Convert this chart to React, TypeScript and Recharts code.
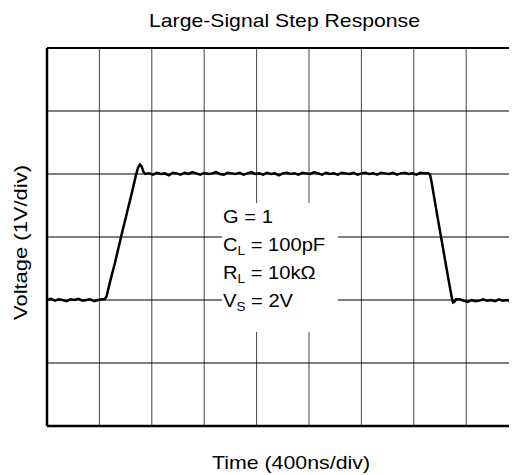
import { LineChart, Line, XAxis, YAxis, ReferenceLine } from 'recharts';

// time in ns, voltage in V (1 V/div, 400 ns/div)
const preStep: [number, number][] = [
  [0, -1.0], [30, -0.98], [60, -1.01], [90, -0.99], [120, -1.0], [150, -1.02], [180, -0.99],
  [210, -1.0], [240, -0.98], [270, -1.01], [300, -1.0], [330, -0.99], [360, -1.02], [390, -1.0],
  [420, -0.99],
];

const riseEdge: [number, number][] = [
  [440, -0.99], [455, -0.94], [480, -0.72], [520, -0.4], [565, 0.0], [610, 0.38], [650, 0.72],
  [680, 0.99], [695, 1.1], [710, 1.15], [722, 1.12], [735, 1.04], [750, 1.0],
];

const highLevel: [number, number][] = [
  [780, 1.01], [810, 0.99], [840, 1.02], [870, 1.0], [900, 1.01], [930, 0.98], [960, 1.02],
  [990, 1.01], [1020, 0.99], [1050, 1.02], [1080, 1.0], [1110, 1.03], [1140, 1.01], [1170, 0.99],
  [1200, 1.02], [1230, 1.0], [1260, 1.01], [1290, 1.03], [1320, 1.0], [1350, 0.99], [1380, 1.02],
  [1410, 1.01], [1440, 1.0], [1470, 1.02], [1500, 0.99], [1530, 1.01], [1560, 1.03], [1590, 1.0],
  [1620, 1.01], [1650, 0.99], [1680, 1.02], [1710, 1.0], [1740, 1.01], [1770, 0.98], [1800, 1.01],
  [1830, 1.02], [1860, 1.0], [1890, 1.01], [1920, 0.99], [1950, 1.02], [1980, 1.01], [2010, 1.0],
  [2040, 1.03], [2070, 1.01], [2100, 0.99], [2130, 1.02], [2160, 1.0], [2190, 1.01], [2220, 0.99],
  [2250, 1.02], [2280, 1.01], [2310, 1.0], [2340, 1.02], [2370, 0.99], [2400, 1.01], [2430, 1.02],
  [2460, 1.0], [2490, 1.01], [2520, 0.99], [2550, 1.02], [2580, 1.01], [2610, 1.0], [2640, 1.02],
  [2670, 0.99], [2700, 1.01], [2730, 1.02], [2760, 1.0], [2790, 1.01], [2820, 0.99], [2850, 1.02],
  [2880, 1.01],
];

const fallEdge: [number, number][] = [
  [2910, 1.01], [2924, 0.99], [2935, 0.88], [2970, 0.45], [3008, 0.0], [3050, -0.5], [3080, -0.85],
  [3093, -0.99], [3100, -1.04], [3110, -1.03], [3122, -0.99],
];

const postStep: [number, number][] = [
  [3150, -0.99], [3180, -1.01], [3210, -1.03], [3240, -1.0], [3270, -1.02], [3300, -1.01],
  [3330, -0.99], [3360, -1.01], [3390, -1.0], [3420, -1.02], [3450, -0.99], [3480, -1.01],
  [3510, -1.0], [3540, -1.02], [3570, -0.99], [3600, -1.01],
];

const timeDivs = [0, 400, 800, 1200, 1600, 2000, 2400, 2800, 3200, 3600, 4000];
const voltDivs = [-3, -2, -1, 0, 1, 2, 3];

const trace = [...preStep, ...riseEdge, ...highLevel, ...fallEdge, ...postStep].map(([t, v]) => ({ t, v }));

const font = '"Liberation Sans", Arial, sans-serif';

export default function App() {
  return (
    <div style={{ position: 'relative', width: 509, height: 467, overflow: 'hidden', background: '#fff' }}>
      <LineChart width={600} height={467} data={trace} margin={{ top: 40, right: 37, bottom: 49, left: 39 }}>
        <XAxis dataKey="t" type="number" domain={[0, 4000]} ticks={timeDivs} hide />
        <YAxis type="number" domain={[-3, 3]} ticks={voltDivs} hide />
        {timeDivs.slice(1).map((t) => (
          <ReferenceLine key={'x' + t} x={t} stroke="#444" strokeWidth={1} />
        ))}
        {voltDivs.slice(1, -1).map((v) => (
          <ReferenceLine key={'y' + v} y={v} stroke="#000" strokeWidth={1} />
        ))}
        <ReferenceLine x={0} stroke="#000" strokeWidth={2.5} />
        <ReferenceLine y={3} stroke="#000" strokeWidth={2} />
        <ReferenceLine y={-3} stroke="#000" strokeWidth={2.5} />
        <Line
          type="linear"
          dataKey="v"
          stroke="#000"
          strokeWidth={2.5}
          dot={false}
          isAnimationActive={false}
        />
      </LineChart>
      <svg
        width={509}
        height={467}
        style={{ position: 'absolute', left: 0, top: 0, pointerEvents: 'none' }}
        fontFamily={font}
        fill="#000"
      >
        <text x={276.5} y={18.7} fontSize={19} textAnchor="middle" textLength={271} lengthAdjust="spacingAndGlyphs">
          Large-Signal Step Response
        </text>
        <text x={283} y={461} fontSize={19} textAnchor="middle" textLength={158} lengthAdjust="spacingAndGlyphs">
          Time (400ns/div)
        </text>
        <text
          x={0}
          y={0}
          fontSize={19}
          textAnchor="middle"
          textLength={155}
          lengthAdjust="spacingAndGlyphs"
          transform="translate(19,234.5) rotate(-90)"
        >
          Voltage (1V/div)
        </text>
        <rect x={214} y={195} width={116} height={129} fill="#fff" />
        <g transform="translate(215,0) scale(1.12,1)" fontSize={18}>
          <text x={0} y={215.5}>G = 1</text>
          <text x={0} y={243}>
            C<tspan fontSize={12} dy={4}>L</tspan>
            <tspan dy={-4}> = 100pF</tspan>
          </text>
          <text x={0} y={271.5}>
            R<tspan fontSize={12} dy={4}>L</tspan>
            <tspan dy={-4}> = 10kΩ</tspan>
          </text>
          <text x={0} y={299}>
            V<tspan fontSize={12} dy={4}>S</tspan>
            <tspan dy={-4}> = 2V</tspan>
          </text>
        </g>
      </svg>
    </div>
  );
}
